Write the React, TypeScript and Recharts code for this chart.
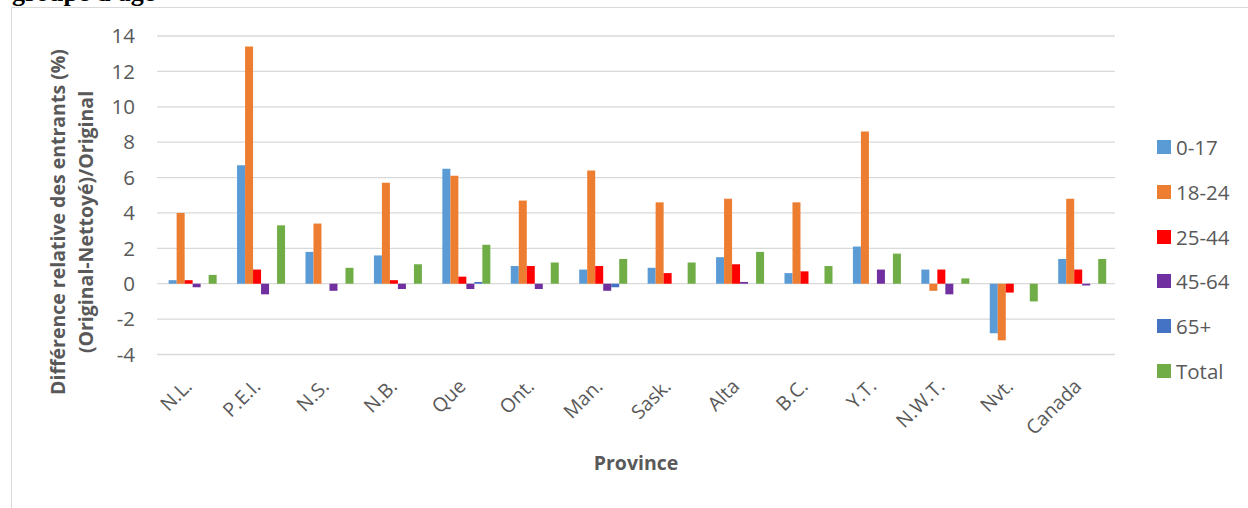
import React from 'react';
import { BarChart, Bar, XAxis, YAxis, CartesianGrid } from 'recharts';

const provinces = ['N.L.', 'P.E.I.', 'N.S.', 'N.B.', 'Que', 'Ont.', 'Man.', 'Sask.', 'Alta', 'B.C.', 'Y.T.', 'N.W.T.', 'Nvt.', 'Canada'];

const age0to17 = [0.2, 6.7, 1.8, 1.6, 6.5, 1.0, 0.8, 0.9, 1.5, 0.6, 2.1, 0.8, -2.8, 1.4];
const age18to24 = [4.0, 13.4, 3.4, 5.7, 6.1, 4.7, 6.4, 4.6, 4.8, 4.6, 8.6, -0.4, -3.2, 4.8];
const age25to44 = [0.2, 0.8, 0, 0.2, 0.4, 1.0, 1.0, 0.6, 1.1, 0.7, 0, 0.8, -0.5, 0.8];
const age45to64 = [-0.2, -0.6, -0.4, -0.3, -0.3, -0.3, -0.4, 0, 0.1, 0, 0.8, -0.6, 0, -0.1];
const age65plus = [0, 0, 0, 0, 0.1, 0, -0.2, 0, 0, 0, 0, 0, 0, 0];
const total = [0.5, 3.3, 0.9, 1.1, 2.2, 1.2, 1.4, 1.2, 1.8, 1.0, 1.7, 0.3, -1.0, 1.4];

const yTicks = [-4, -2, 0, 2, 4, 6, 8, 10, 12, 14];

const series = [
  { key: 'a0', name: '0-17', values: age0to17, color: '#5B9BD5' },
  { key: 'a18', name: '18-24', values: age18to24, color: '#ED7D31' },
  { key: 'a25', name: '25-44', values: age25to44, color: '#FF0000' },
  { key: 'a45', name: '45-64', values: age45to64, color: '#7030A0' },
  { key: 'a65', name: '65+', values: age65plus, color: '#4472C4' },
  { key: 'tot', name: 'Total', values: total, color: '#70AD47' },
];

const data = provinces.map((p, i) => {
  const row: Record<string, string | number> = { province: p };
  series.forEach(s => {
    row[s.key] = s.values[i];
  });
  return row;
});

const FONT = '"Open Sans", "Noto Sans", sans-serif';
const GREY = '#595959';

const ProvinceTick = (props: any) => {
  const { x, y, payload } = props;
  const tx = x + 2;
  const ty = y + 25;
  return (
    <text
      x={tx}
      y={ty}
      transform={`rotate(-45 ${tx} ${ty})`}
      textAnchor="end"
      fontSize={19.5}
      fontFamily={FONT}
      fill={GREY}
    >
      {payload.value}
    </text>
  );
};

const YTitle = () => (
  <text
    transform="translate(60 222) rotate(-90)"
    textAnchor="middle"
    fontSize={19.5}
    fontWeight="bold"
    fontFamily={FONT}
    fill={GREY}
  >
    <tspan x={0} y={0} dominantBaseline="middle">Différence relative des entrants (%)</tspan>
    <tspan x={0} y={28} dominantBaseline="middle">(Original-Nettoyé)/Original</tspan>
  </text>
);

export default function App() {
  return (
    <div
      style={{
        position: 'absolute',
        left: 0,
        top: 0,
        width: 1248,
        height: 508,
        overflow: 'hidden',
        background: '#fff',
      }}
    >
      <div
        style={{
          position: 'absolute',
          left: 12,
          top: -20,
          fontFamily: '"Liberation Serif", "Times New Roman", serif',
          fontWeight: 'bold',
          fontSize: 26,
          lineHeight: '26px',
          whiteSpace: 'nowrap',
          color: '#000',
        }}
      >
        groupe d'âge
      </div>
      <div
        style={{
          position: 'absolute',
          left: 11,
          top: 7,
          width: 1300,
          height: 600,
          borderLeft: '1.5px solid #D9D9D9',
          borderTop: '1.5px solid #D9D9D9',
          background: '#fff',
        }}
      />
      <div style={{ position: 'absolute', left: 0, top: 0 }}>
        <BarChart
          width={1248}
          height={508}
          data={data}
          margin={{ top: 36, right: 133, bottom: 93.5, left: 0 }}
          barGap={0}
          barCategoryGap="17%"
        >
          <CartesianGrid vertical={false} stroke="#D9D9D9" strokeWidth={1.3} />
          <XAxis
            dataKey="province"
            height={60}
            axisLine={false}
            tickLine={false}
            interval={0}
            tick={<ProvinceTick />}
          />
          <YAxis
            width={157}
            domain={[-4, 14]}
            ticks={yTicks}
            interval={0}
            axisLine={false}
            tickLine={false}
            tickMargin={16}
            tick={{ fontSize: 20.5, fontFamily: FONT, fill: GREY }}
            label={<YTitle />}
          />
          {series.map(s => (
            <Bar key={s.key} dataKey={s.key} name={s.name} fill={s.color} isAnimationActive={false} />
          ))}
          <text
            x={636}
            y={465}
            textAnchor="middle"
            dominantBaseline="middle"
            fontSize={19.5}
            fontWeight="bold"
            fontFamily={FONT}
            fill={GREY}
          >
            Province
          </text>
        </BarChart>
      </div>
      {series.map((s, i) => (
        <div
          key={s.key}
          style={{
            position: 'absolute',
            left: 1157,
            top: 147 + i * 44.8 - 14,
            height: 28,
            display: 'flex',
            alignItems: 'center',
            fontFamily: FONT,
            fontSize: 20.5,
            color: GREY,
            whiteSpace: 'nowrap',
          }}
        >
          <span style={{ width: 14, height: 14, background: s.color, marginRight: 5, display: 'inline-block', flexShrink: 0 }} />
          <span>{s.name}</span>
        </div>
      ))}
    </div>
  );
}
